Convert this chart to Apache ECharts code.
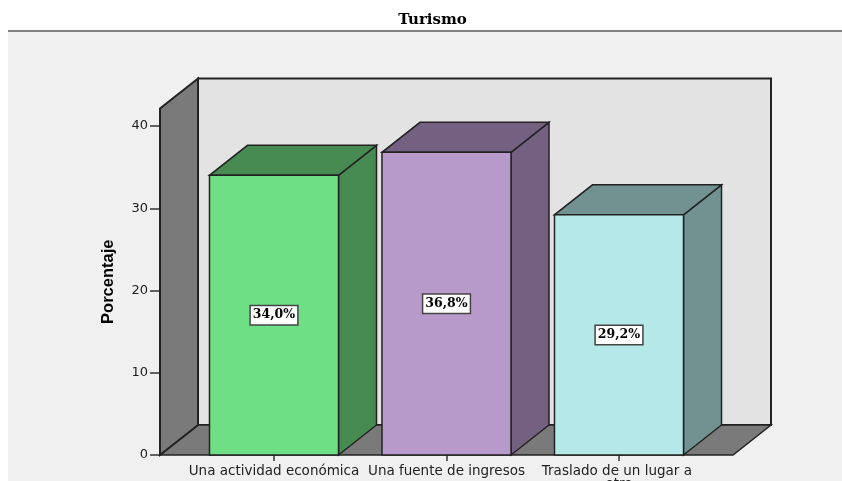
<!DOCTYPE html>
<html><head><meta charset="utf-8">
<style>html,body{margin:0;padding:0;background:#fff}#c{width:842px;height:481px}</style>
<script src="https://cdn.jsdelivr.net/npm/echarts@6/dist/echarts.min.js"></script>
</head><body><div id="c"></div>
<script>
var categories = ['Una actividad económica', 'Una fuente de ingresos', 'Traslado de un lugar a otro'];
var values = [34.0, 36.8, 29.2];
var valueLabels = ['34,0%', '36,8%', '29,2%'];
var faceColors = ['#6fdf85', '#b89aca', '#b5e8e9'];
var sideColors = ['#478a52', '#746080', '#729292'];
var yTicks = [0, 10, 20, 30, 40];
var yMax = 42.13;

var depthX = 38, depthY = -30, gridExtra = 27.75, barRatio = 0.748;
var edge = '#222222';

function poly(points, fill, lw) {
  return { type: 'polygon', shape: { points: points },
    style: { fill: fill, stroke: edge, lineWidth: lw || 1.5, lineJoin: 'miter' } };
}

var chart = echarts.init(document.getElementById('c'), null, { renderer: 'canvas' });
chart.setOption({
  animation: false,
  backgroundColor: '#ffffff',
  graphic: [
    { type: 'rect', z: -10, shape: { x: 8, y: 31, width: 834, height: 450 }, style: { fill: '#f0f0f0' } },
    { type: 'rect', z: -9, shape: { x: 8, y: 30, width: 834, height: 2 }, style: { fill: '#808080' } }
  ],
  title: { text: 'Turismo', left: 427.5, top: 8, textAlign: 'center',
    textStyle: { fontFamily: 'DejaVu Serif', fontWeight: 'bold', fontSize: 15, color: '#000' } },
  grid: { left: 187.75, width: 517.5, top: 108.5, height: 346.5, containLabel: false, outerBoundsMode: 'none' },
  xAxis: { type: 'category', data: categories,
    axisLine: { show: false },
    axisTick: { show: true, alignWithLabel: true, length: 6, lineStyle: { color: '#333', width: 1.5 } },
    axisLabel: { interval: 0, margin: 10, width: 180, overflow: 'break', lineHeight: 13,
      fontFamily: 'DejaVu Sans', fontSize: 13.5, color: '#222' } },
  yAxis: { type: 'value', min: 0, max: yMax, offset: gridExtra, interval: 10,
    name: 'Porcentaje', nameLocation: 'middle', nameGap: 43,
    nameTextStyle: { fontFamily: 'Liberation Sans', fontWeight: 'bold', fontSize: 16.5, color: '#000' },
    splitLine: { show: false },
    axisLine: { show: false },
    axisTick: { show: true, length: 10, customValues: yTicks, lineStyle: { color: '#333', width: 1.5 } },
    axisLabel: { margin: 12, customValues: yTicks, padding: [3, 0, 0, 0], fontFamily: 'DejaVu Sans', fontSize: 13, color: '#222' } },
  series: [
    { type: 'custom', clip: false, z: 1, silent: true, data: [[0, 0]], encode: { x: 0, y: 1 },
      renderItem: function (params, api) {
        var cs = params.coordSys;
        var x0 = cs.x - gridExtra, x1 = cs.x + cs.width + gridExtra;
        var yb = api.coord([0, 0])[1], yt = api.coord([0, yMax])[1];
        return { type: 'group', children: [
          poly([[x0 + depthX, yb + depthY], [x1 + depthX, yb + depthY], [x1 + depthX, yt + depthY], [x0 + depthX, yt + depthY]], '#e3e3e3', 2),
          poly([[x0, yb], [x1, yb], [x1 + depthX, yb + depthY], [x0 + depthX, yb + depthY]], '#7a7a7a', 1.5),
          poly([[x0, yb], [x0 + depthX, yb + depthY], [x0 + depthX, yt + depthY], [x0, yt]], '#7a7a7a', 2)
        ] };
      } },
    { type: 'custom', clip: false, z: 2, silent: true, encode: { x: 0, y: 1 },
      data: categories.map(function (c, i) { return [i, values[i]]; }),
      renderItem: function (params, api) {
        var i = params.dataIndex;
        var top = api.coord([i, api.value(1)]);
        var base = api.coord([i, 0]);
        var w = api.size([1, 0])[0] * barRatio;
        var l = top[0] - w / 2, r = top[0] + w / 2;
        var yt = top[1], yb = base[1];
        return { type: 'group', children: [
          poly([[r, yb], [r + depthX, yb + depthY], [r + depthX, yt + depthY], [r, yt]], sideColors[i]),
          poly([[l, yt], [r, yt], [r + depthX, yt + depthY], [l + depthX, yt + depthY]], sideColors[i]),
          poly([[l, yb], [r, yb], [r, yt], [l, yt]], faceColors[i]),
          { type: 'text', x: top[0], y: (yt + yb) / 2,
            style: { text: valueLabels[i], align: 'center', verticalAlign: 'middle',
              fontFamily: 'DejaVu Serif', fontWeight: 'bold', fontSize: 12.5, fill: '#000',
              backgroundColor: '#fff', borderColor: '#444', borderWidth: 1.5, padding: [3, 2, 2, 2] } }
        ] };
      } }
  ]
});
</script></body></html>
